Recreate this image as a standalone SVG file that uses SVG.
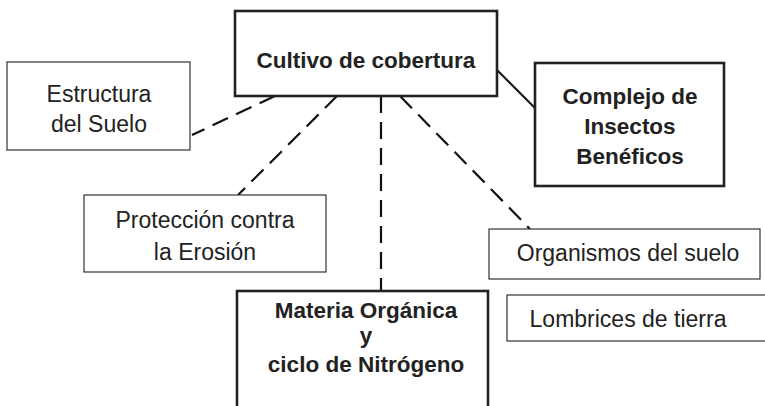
<svg xmlns="http://www.w3.org/2000/svg" width="765" height="406" viewBox="0 0 765 406">
<style>
.thick{fill:#fff;stroke:#222;stroke-width:2.6}
.thin{fill:#fff;stroke:#333;stroke-width:1.2}
.b{font-family:"Liberation Sans",Arial,sans-serif;font-weight:bold;font-size:22.5px;fill:#222;text-anchor:middle}
.r{font-family:"Liberation Sans",Arial,sans-serif;font-size:23px;fill:#222;text-anchor:middle}
.dash{stroke:#111;stroke-width:2.2;stroke-dasharray:17 9;fill:none}
.solid{stroke:#111;stroke-width:2;fill:none}
</style>
<rect width="765" height="406" fill="#fff"/>
<g id="connectors">
<line class="dash" x1="275" y1="96" x2="192" y2="135"/>
<line class="solid" x1="497" y1="70" x2="536" y2="109"/>
<line class="dash" x1="337" y1="96" x2="238" y2="195"/>
<line class="dash" x1="381" y1="96" x2="381" y2="291"/>
<line class="dash" x1="400" y1="96" x2="530" y2="229"/>
</g>
<g id="cultivo">
<rect class="thick" x="235" y="11" width="262" height="85"/>
<text class="b" x="366" y="68">Cultivo de cobertura</text>
</g>
<g id="estructura">
<rect class="thin" x="7" y="62" width="183" height="88"/>
<text class="r" x="99" y="102">Estructura</text>
<text class="r" x="99" y="132">del Suelo</text>
</g>
<g id="complejo">
<rect class="thick" x="535" y="63" width="189" height="123"/>
<text class="b" x="630" y="104">Complejo de</text>
<text class="b" x="630" y="134">Insectos</text>
<text class="b" x="630" y="164">Benéficos</text>
</g>
<g id="proteccion">
<rect class="thin" x="84" y="195" width="242" height="77"/>
<text class="r" x="205" y="228">Protección contra</text>
<text class="r" x="205" y="260">la Erosión</text>
</g>
<g id="organismos">
<rect class="thin" x="489" y="229" width="271" height="50"/>
<text class="r" x="628" y="261">Organismos del suelo</text>
</g>
<g id="lombrices">
<rect class="thin" x="507" y="295" width="270" height="46"/>
<text class="r" x="628" y="327">Lombrices de tierra</text>
</g>
<g id="materia">
<rect class="thick" x="237" y="291" width="251" height="130"/>
<text class="b" x="366" y="318">Materia Orgánica</text>
<text class="b" x="366" y="343">y</text>
<text class="b" x="366" y="372">ciclo de Nitrógeno</text>
</g>
</svg>
